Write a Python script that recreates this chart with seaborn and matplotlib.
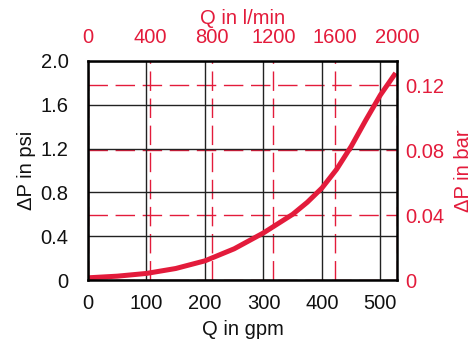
import matplotlib
matplotlib.use("Agg")
import matplotlib.pyplot as plt
import seaborn as sns
import pandas as pd

# data
q_gpm = [0, 50, 100, 150, 200, 250, 300, 350, 375, 400, 425, 450, 475, 500, 526]
dp_psi = [0.02, 0.035, 0.06, 0.105, 0.175, 0.285, 0.43, 0.60, 0.71, 0.84, 1.01, 1.22, 1.46, 1.69, 1.89]
gpm_ticks = [0, 100, 200, 300, 400, 500]
psi_ticks = [0, 0.4, 0.8, 1.2, 1.6, 2.0]
psi_labels = ["0", "0.4", "0.8", "1.2", "1.6", "2.0"]
lpm_ticks = [0, 400, 800, 1200, 1600, 2000]
bar_ticks = [0, 0.04, 0.08, 0.12]
bar_labels = ["0", "0.04", "0.08", "0.12"]

LPM_MAX = 2000
GPM_TO_LPM = 3.78541
BAR_MAX = 0.135
xmax = LPM_MAX / GPM_TO_LPM
ymax = 2.0

RED = "#E31B3B"
FS = 14.5

sns.set_theme(style="white")
plt.rcParams['font.family'] = ['Liberation Sans', 'DejaVu Sans']

fig = plt.figure(figsize=(4.74, 3.39), dpi=100)
ax = fig.add_axes([88/474, 1 - 280/339, (397-88)/474, (280-61)/339])

axt = ax.twiny()
axr = ax.twinx()
ax.set_zorder(3)
ax.patch.set_visible(False)

df = pd.DataFrame({"gpm": q_gpm, "psi": dp_psi})
sns.lineplot(data=df, x="gpm", y="psi", ax=ax, color=RED, lw=3.6,
             solid_capstyle="butt", solid_joinstyle="round")

ax.set_xlim(0, xmax)
ax.set_ylim(0, ymax)
ax.set_xticks(gpm_ticks)
ax.set_yticks(psi_ticks)
ax.set_yticklabels(psi_labels)
ax.grid(True, color="#222222", lw=1.0, ls="-")
ax.set_axisbelow(True)
ax.tick_params(length=0, labelsize=FS, colors="#111111")
ax.tick_params(axis="x", pad=10)
ax.tick_params(axis="y", pad=14)
ax.set_xlabel("Q in gpm", fontsize=FS, color="#111111", labelpad=5)
ax.set_ylabel("ΔP in psi", fontsize=FS, color="#111111", labelpad=3)
for s in ax.spines.values():
    s.set_linewidth(1.8)
    s.set_color("black")

axt.set_xlim(0, LPM_MAX)
axt.set_xticks(lpm_ticks)
axt.grid(True, axis="x", color=RED, lw=1.0, ls=(0, (14, 5.5)))
axt.tick_params(length=0, labelsize=FS, colors=RED, pad=10)
axt.set_xlabel("Q in l/min", fontsize=FS, color=RED, labelpad=3)

axr.set_ylim(0, BAR_MAX)
axr.set_yticks(bar_ticks)
axr.set_yticklabels(bar_labels)
axr.grid(True, axis="y", color=RED, lw=1.0, ls=(0, (14, 5.5)))
axr.tick_params(length=0, labelsize=FS, colors=RED, pad=6)
axr.set_ylabel("ΔP in bar", fontsize=FS, color=RED, labelpad=7)

for a in (axt, axr):
    for s in a.spines.values():
        s.set_visible(False)

fig.savefig("out.png", dpi=100, facecolor="white")
